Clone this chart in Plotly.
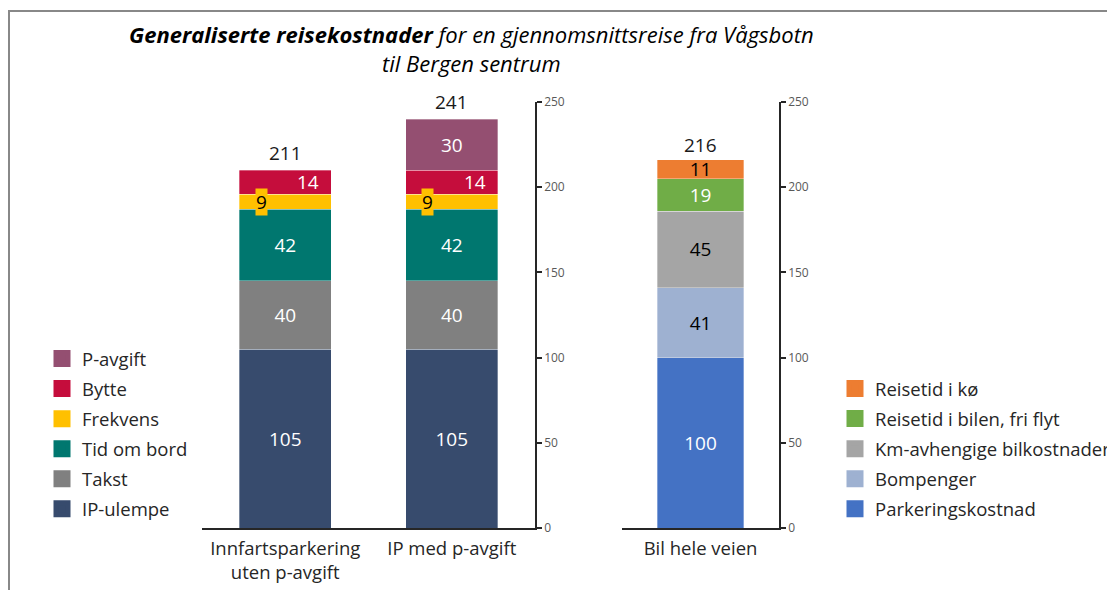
import plotly.graph_objects as go

# ---------------- data ----------------
ip_categories = ["Innfartsparkering<br>uten p-avgift", "IP med p-avgift"]
ip_series = ["IP-ulempe", "Takst", "Tid om bord", "Frekvens", "Bytte", "P-avgift"]
ip_ulempe = [105, 105]
takst = [40, 40]
tid_om_bord = [42, 42]
frekvens = [9, 9]
bytte = [14, 14]
p_avgift = [None, 30]
ip_totals = [211, 241]

bil_categories = ["Bil hele veien"]
bil_series = ["Parkeringskostnad", "Bompenger", "Km-avhengige bilkostnader",
              "Reisetid i bilen, fri flyt", "Reisetid i kø"]
parkeringskostnad = [100]
bompenger = [41]
km_kostnader = [45]
reisetid_fri = [19]
reisetid_ko = [11]
bil_totals = [216]

y_ticks = [0, 50, 100, 150, 200, 250]

# ---------------- styles ----------------
FONT = "Open Sans"
ip_colors = ["#374B6D", "#808080", "#00776F", "#FFC000", "#C50D3C", "#944F71"]
ip_textcolors = ["white", "white", "white", "black", "white", "white"]
bil_colors = ["#4472C4", "#9EB1D1", "#A5A5A5", "#70AD47", "#ED7D31"]
bil_textcolors = ["white", "black", "black", "white", "black"]

ip_values = [ip_ulempe, takst, tid_om_bord, frekvens, bytte, p_avgift]
bil_values = [parkeringskostnad, bompenger, km_kostnader, reisetid_fri, reisetid_ko]

W, H = 1115, 590
OFF = 8  # page body offset of the figure in the screenshot
def px_x(p):
    return (p - OFF) / W
def px_y(p):
    return (H - (p - OFF)) / H

NUM_SIZE = 19
fig = go.Figure()

# series whose labels are placed as offset annotations (as in the original)
offset_labels = {"Frekvens": -24, "Bytte": 23}

def add_group(series, values, colors, tcolors, cats, xa, ya, leg, use_offsets):
    n = len(series)
    for i, (name, vals, col, tcol) in enumerate(zip(series, values, colors, tcolors)):
        use_text = not (use_offsets and name in offset_labels)
        fig.add_trace(go.Bar(
            name=name, x=cats, y=vals,
            marker=dict(color=col, line=dict(width=0.6, color="rgba(255,255,255,0.55)")),
            text=[("" if v is None else str(v)) for v in vals] if use_text else None,
            textposition="inside", insidetextanchor="middle", textangle=0,
            constraintext="none",
            textfont=dict(family=FONT, size=NUM_SIZE, color=tcol),
            xaxis=xa, yaxis=ya, showlegend=False, legendgroup=name,
            hoverinfo="name+y",
        ))
        # legend entry (larger swatch, same colour)
        fig.add_trace(go.Bar(
            name=name, x=[None], y=[None],
            marker=dict(color=col, line=dict(width=5, color=col)),
            xaxis=xa, yaxis=ya, legend=leg, legendgroup=name,
            legendrank=n - i, showlegend=True, hoverinfo="skip",
        ))

add_group(ip_series, ip_values, ip_colors, ip_textcolors, ip_categories, "x", "y", "legend", True)
add_group(bil_series, bil_values, bil_colors, bil_textcolors, bil_categories, "x2", "y2", "legend2", False)

annotations = []
# offset segment labels
for name, vals, col, tcol in zip(ip_series, ip_values, ip_colors, ip_textcolors):
    if name not in offset_labels:
        continue
    idx = ip_series.index(name)
    for ci, cat in enumerate(ip_categories):
        v = vals[ci]
        if v is None:
            continue
        base = sum((ip_values[k][ci] or 0) for k in range(idx))
        annotations.append(dict(
            x=cat, y=base + v / 2, xref="x", yref="y", text=str(v),
            showarrow=False, xshift=offset_labels[name],
            font=dict(family=FONT, size=NUM_SIZE, color=tcol),
            bgcolor=col if name == "Frekvens" else None,
            borderpad=0,
        ))

# totals
for cat, tot in zip(ip_categories, ip_totals):
    annotations.append(dict(x=cat, y=tot, xref="x", yref="y", text=str(tot),
                            showarrow=False, yanchor="bottom", yshift=0,
                            font=dict(family=FONT, size=NUM_SIZE, color="#1a1a1a")))
for cat, tot in zip(bil_categories, bil_totals):
    annotations.append(dict(x=cat, y=tot, xref="x2", yref="y2", text=str(tot),
                            showarrow=False, yanchor="bottom", yshift=0,
                            font=dict(family=FONT, size=NUM_SIZE, color="#1a1a1a")))

# title
annotations.append(dict(
    x=px_x(471), y=px_y(17), xref="paper", yref="paper",
    xanchor="center", yanchor="top", showarrow=False, align="center",
    text="<b><i>Generaliserte reisekostnader</i></b><i> for en gjennomsnittsreise fra Vågsbotn</i>"
         "<br><i>til Bergen sentrum</i>",
    font=dict(family=FONT, size=22, color="#000000"),
))

y_dom = [px_y(528), px_y(102)]
axis_line = dict(showline=True, linecolor="#262626", linewidth=1.5, automargin=False)
yaxis_common = dict(range=[0, 250], tickvals=y_ticks, showgrid=False, zeroline=False,
                    ticks="outside", ticklen=5, tickcolor="#262626", tickwidth=1.5,
                    side="right", domain=y_dom, fixedrange=True,
                    tickfont=dict(family=FONT, size=12, color="#595959"),
                    **axis_line)
xaxis_common = dict(type="category", showgrid=False, zeroline=False, ticks="",
                    ticklabelstandoff=3,
                    tickfont=dict(family=FONT, size=18.5, color="#262626"),
                    fixedrange=True, **axis_line)

legend_common = dict(font=dict(family=FONT, size=18.5, color="#262626"),
                     bgcolor="rgba(0,0,0,0)", xanchor="left", yanchor="top",
                     traceorder="grouped", tracegroupgap=3,
                     itemclick=False, itemdoubleclick=False)

fig.update_layout(
    width=W, height=H,
    margin=dict(l=0, r=0, t=0, b=0, pad=0),
    paper_bgcolor="white", plot_bgcolor="white",
    barmode="stack", bargap=0.45,
    xaxis=dict(domain=[px_x(202), px_x(535)], anchor="y", range=[-0.5, 1.5], **xaxis_common),
    yaxis=dict(anchor="x", **yaxis_common),
    xaxis2=dict(domain=[px_x(622), px_x(779)], anchor="y2", range=[-0.5, 0.5], **xaxis_common),
    yaxis2=dict(anchor="x2", **yaxis_common),
    legend=dict(x=px_x(42), y=px_y(340), **legend_common),
    legend2=dict(x=px_x(835), y=px_y(370), **legend_common),
    annotations=annotations,
    shapes=[
        dict(type="line", xref="paper", yref="paper", x0=px_x(8), x1=1, y0=px_y(11), y1=px_y(11),
             line=dict(color="#888888", width=2)),
        dict(type="line", xref="paper", yref="paper", x0=px_x(9), x1=px_x(9), y0=0, y1=px_y(11),
             line=dict(color="#888888", width=2)),
    ],
    showlegend=True,
)

fig.write_html("out.html")
